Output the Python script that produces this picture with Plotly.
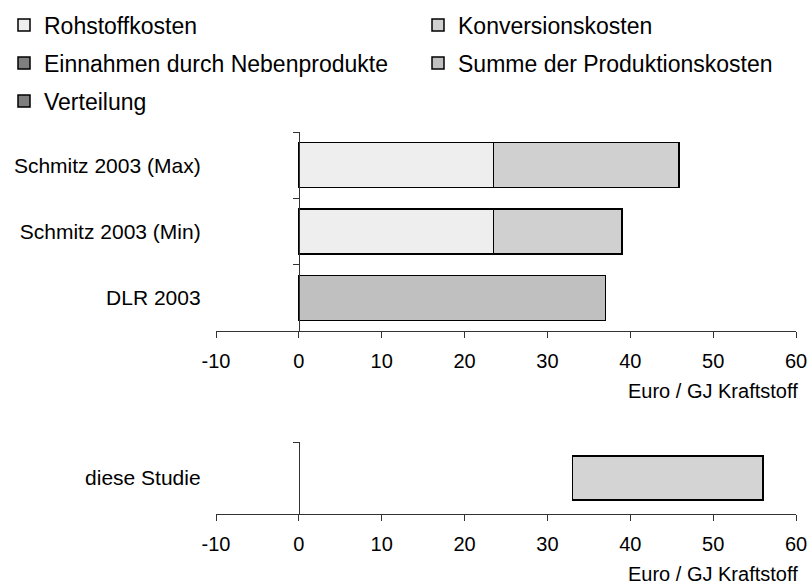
import plotly.graph_objects as go

# Daten (Euro / GJ Kraftstoff)
kategorien = ["Schmitz 2003 (Max)", "Schmitz 2003 (Min)", "DLR 2003"]
rohstoffkosten = [23.5, 23.5, None]
konversionskosten = [22.4, 15.5, None]
summe_produktion = [None, None, 37.0]
einnahmen_neben = [None, None, None]
verteilung = [None, None, None]

studie_kategorie = ["diese Studie"]
studie_von = [33.0]
studie_bis = [56.0]

x_ticks = [-10, 0, 10, 20, 30, 40, 50, 60]

W, H = 809, 588
FONT = "Liberation Sans, Arial, sans-serif"
LINE = dict(color="black", width=1.5)

fig = go.Figure()

# (Name, Werte, Farbe, Legende)
reihen = [
    ("Rohstoffkosten", rohstoffkosten, "#eeeeee", "legend"),
    ("Konversionskosten", konversionskosten, "#d0d0d0", "legend2"),
    ("Einnahmen durch Nebenprodukte", einnahmen_neben, "#7f7f7f", "legend3"),
    ("Summe der Produktionskosten", summe_produktion, "#c0c0c0", "legend4"),
    ("Verteilung", verteilung, "#7f7f7f", "legend5"),
]
for name, werte, farbe, leg in reihen:
    fig.add_trace(go.Bar(y=kategorien, x=werte, orientation="h", name=name,
                         marker=dict(color=farbe, line=LINE), width=0.68, legend=leg))

# untere Grafik: Spanne dieser Studie
fig.add_trace(go.Bar(y=studie_kategorie, x=[b - a for a, b in zip(studie_von, studie_bis)],
                     base=studie_von, orientation="h", showlegend=False,
                     marker=dict(color="#d4d4d4", line=LINE), width=0.61,
                     xaxis="x2", yaxis="y2"))

x_min, x_max = x_ticks[0], x_ticks[-1]
y_pos = (0 - x_min) / (x_max - x_min)

xax = dict(range=[x_min, x_max], tickvals=x_ticks, ticktext=[str(v) for v in x_ticks],
           showgrid=False, zeroline=False,
           showline=True, linecolor="#333333", linewidth=1, ticks="outside", ticklen=6,
           tickcolor="#333333", tickfont=dict(size=20, color="black"), ticklabelstandoff=6,
           fixedrange=True)
yax = dict(showgrid=False, zeroline=False, showline=True, linecolor="#333333", linewidth=1,
           ticks="outside", ticklen=6, tickcolor="#333333", tickson="boundaries",
           tickfont=dict(size=21, color="black"), ticklabelstandoff=94,
           anchor="free", position=y_pos, fixedrange=True)


def legende(x_px, y_px):
    return dict(orientation="h", xref="container", yref="container", xanchor="left",
                yanchor="middle", x=x_px / W, y=1 - y_px / H,
                font=dict(size=23, color="black", family=FONT),
                bgcolor="rgba(0,0,0,0)")


fig.update_layout(
    width=W, height=H,
    margin=dict(l=216, r=13, t=0, b=0, autoexpand=False),
    plot_bgcolor="white", paper_bgcolor="white",
    font=dict(family=FONT, size=20, color="black"),
    barmode="stack",
    xaxis=dict(xax, anchor="y"),
    xaxis2=dict(xax, anchor="y2"),
    yaxis=dict(yax, domain=[1 - 331 / H, 1 - 132 / H],
               categoryorder="array", categoryarray=kategorien, autorange="reversed"),
    yaxis2=dict(yax, domain=[1 - 514 / H, 1 - 442 / H]),
    legend=legende(4, 25),
    legend2=legende(418, 25),
    legend3=legende(4, 63),
    legend4=legende(418, 63),
    legend5=legende(4, 101),
    annotations=[
        dict(text="Euro / GJ Kraftstoff", xref="paper", yref="paper", x=(800 - 216) / 580,
             y=1 - 391 / H, xanchor="right", yanchor="middle", showarrow=False,
             font=dict(size=20, color="black")),
        dict(text="Euro / GJ Kraftstoff", xref="paper", yref="paper", x=(800 - 216) / 580,
             y=1 - 574 / H, xanchor="right", yanchor="middle", showarrow=False,
             font=dict(size=20, color="black")),
    ],
)

fig.write_html("out.html", config={"displayModeBar": False},
               post_script="document.body.style.margin='0';")
